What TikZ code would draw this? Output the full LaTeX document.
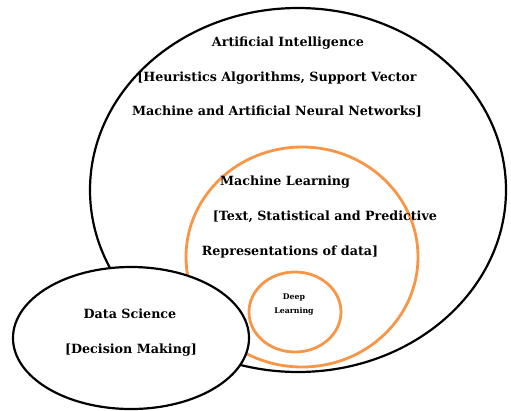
\documentclass[tikz,border=0pt]{standalone}
\usepackage{fontspec}
\setmainfont{DejaVu Serif}
\begin{document}
\begin{tikzpicture}[x=1pt,y=-1pt,
  blackring/.style={draw=black,line width=2.2pt},
  orangering/.style={draw=mlorange,line width=2.8pt},
  lbl/.style={font=\bfseries\fontsize{12.7}{15}\selectfont,inner sep=0pt},
  small/.style={font=\bfseries\fontsize{7.8}{14}\selectfont,inner sep=0pt,align=center}]
\definecolor{mlorange}{HTML}{F79646}
\useasboundingbox (0,0) rectangle (511,410);
% outer field
\draw[blackring] (298,190) ellipse [x radius=208, y radius=182];
% machine learning and deep learning rings
\draw[orangering] (302,257) ellipse [x radius=116, y radius=110];
\draw[orangering] (295,312) ellipse [x radius=46, y radius=40];
% data science ellipse laid over the others
\draw[blackring,fill=white] (131,338) ellipse [x radius=118, y radius=71];
% labels
\node[lbl] (ai1) at (288,43) {Artificial Intelligence};
\node[lbl] (ai2) at (277,78) {[Heuristics Algorithms, Support Vector};
\node[lbl] (ai3) at (277,112) {Machine and Artificial Neural Networks]};
\node[lbl] (ml1) at (285,182) {Machine Learning};
\node[lbl] (ml2) at (325,217) {[Text, Statistical and Predictive};
\node[lbl] (ml3) at (290,252) {Representations of data]};
\node[small] (dl) at (294,305) {Deep\\Learning};
\node[lbl] (ds1) at (130,314) {Data Science};
\node[lbl] (ds2) at (131,350) {[Decision Making]};
\end{tikzpicture}
\end{document}
